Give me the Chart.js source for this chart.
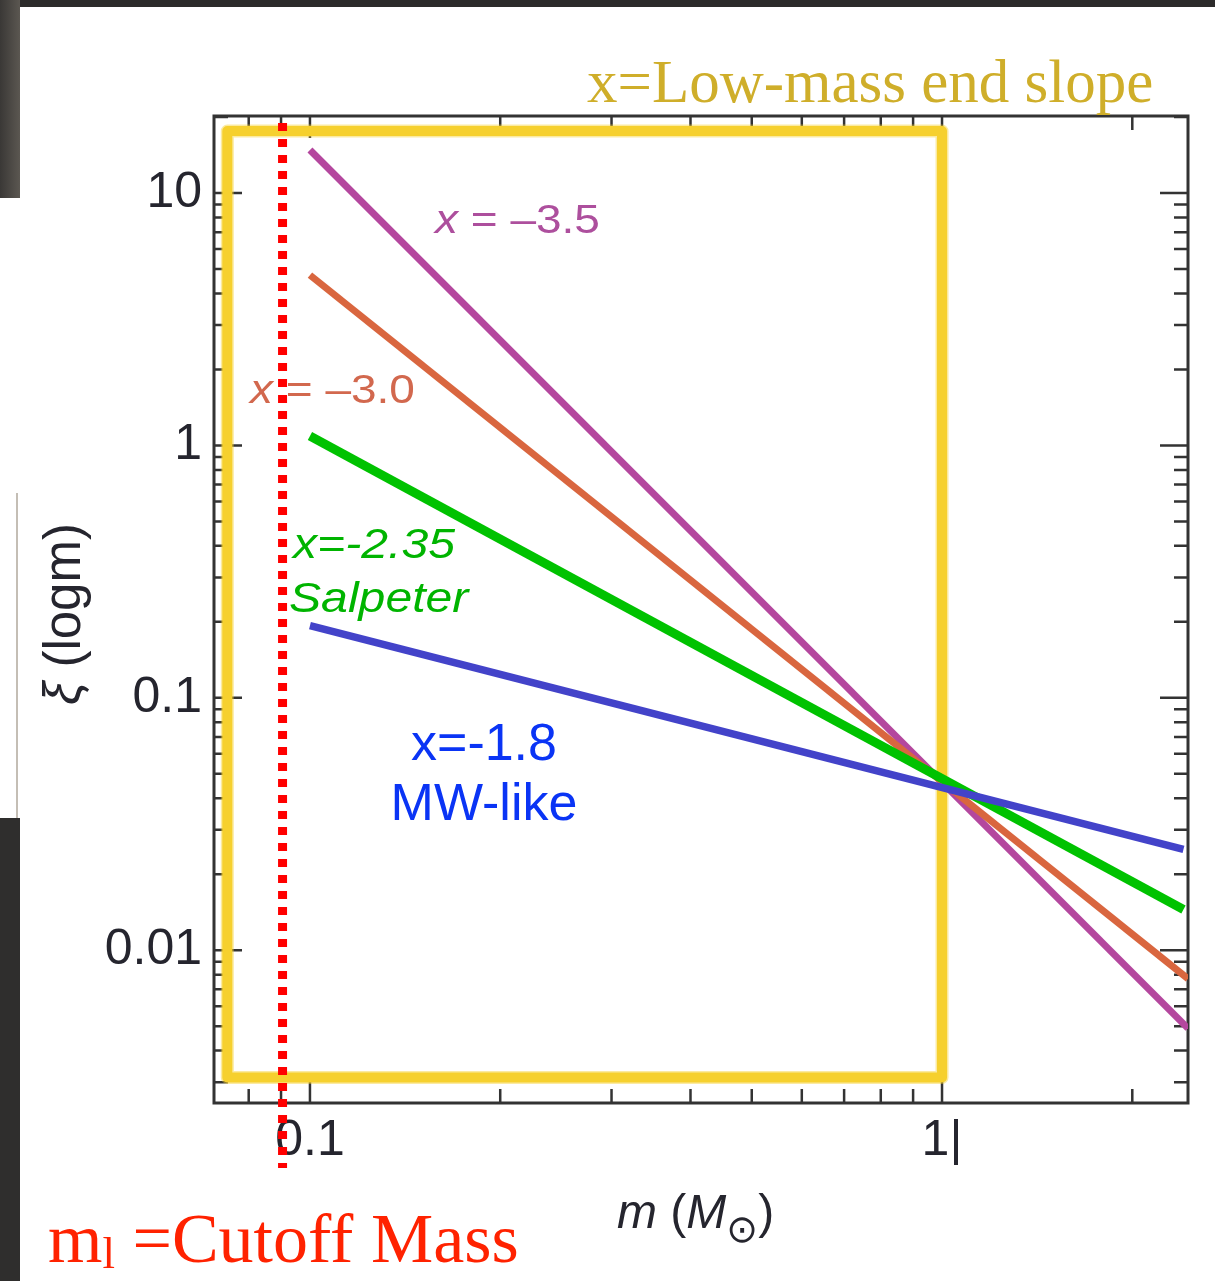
<!DOCTYPE html>
<html>
<head>
<meta charset="utf-8">
<title>IMF low-mass end slopes</title>
<script src="https://cdn.jsdelivr.net/npm/chart.js@4.4.1/dist/chart.umd.min.js"></script>
<style>
  html, body { margin: 0; padding: 0; background: #fff; }
  canvas { display: block; }
</style>
</head>
<body>
<canvas id="imf" width="1215" height="1281"></canvas>
<script>
// stellar mass (M_sun) at the ends of each power-law segment
const massFull = [0.1, 2.45];
const massShort = [0.1, 2.41];

// xi(log m) at those masses, one array per low-mass slope
const xiSlope35 = [14.8, 0.0049];
const xiSlope30 = [4.73, 0.0077];
const xiSalpeter = [1.09, 0.0145];
const xiMilkyWay = [0.193, 0.0251];

const seriesNames = ['x = -1.8', 'x = -2.35', 'x = -3.0', 'x = -3.5'];

const xTickValues = [0.1, 1];
const xTickLabels = ['0.1', '1|'];
const yTickValues = [10, 1, 0.1, 0.01];
const yTickLabels = ['10', '1', '0.1', '0.01'];

// axis ranges
const massMin = 0.0705, massMax = 2.45;
const xiMin = 0.00248, xiMax = 20.2;

// cutoff mass marker and the highlighted low-mass window
const cutoffMass = 0.0905;
const windowMass = [0.074, 1.0];
const windowXi = [0.00313, 17.6];

const SANS = '"Liberation Sans", Arial, sans-serif';
const SERIF = '"Liberation Serif", "Times New Roman", serif';
const INK = '#25252e';

function pts(ms, ys) {
  return ms.map((m, i) => ({ x: m, y: ys[i] }));
}

function logTicks(min, max) {
  const out = [];
  for (let e = Math.floor(Math.log10(min)); e <= Math.ceil(Math.log10(max)); e++) {
    for (let k = 1; k < 10; k++) {
      const v = k * Math.pow(10, e);
      if (v >= min * 0.999 && v <= max * 1.001) out.push({ v, major: k === 1 });
    }
  }
  return out;
}

function tickLabel(values, labels) {
  return v => {
    const i = values.findIndex(t => Math.abs(t - v) / t < 1e-6);
    return i >= 0 ? labels[i] : '';
  };
}

// text made of runs with different fonts, optionally stretched sideways
function drawRuns(ctx, x, y, runs, color, hscale = 1, align = 'left') {
  ctx.save();
  ctx.fillStyle = color;
  ctx.textBaseline = 'alphabetic';
  let total = 0;
  runs.forEach(r => {
    ctx.font = r.font;
    r.w = ctx.measureText(r.text).width;
    total += r.w;
  });
  ctx.translate(x, y);
  ctx.scale(hscale, 1);
  let cx = align === 'center' ? -total / 2 : 0;
  runs.forEach(r => {
    ctx.font = r.font;
    ctx.fillText(r.text, cx, r.dy || 0);
    cx += r.w;
  });
  ctx.restore();
}

const decorations = {
  id: 'decorations',
  beforeDraw(chart) {
    const ctx = chart.ctx;
    ctx.save();
    ctx.fillStyle = '#fff';
    ctx.fillRect(0, 0, chart.width, chart.height);
    // dark slide frame around the figure
    ctx.fillStyle = '#2c2b2a';
    ctx.fillRect(0, 0, chart.width, 7);
    const g = ctx.createLinearGradient(0, 0, 20, 0);
    g.addColorStop(0, '#3a3836');
    g.addColorStop(1, '#5b5751');
    ctx.fillStyle = g;
    ctx.fillRect(0, 0, 20, 198);
    ctx.fillStyle = '#2f2e2d';
    ctx.fillRect(0, 818, 20, chart.height - 818);
    ctx.strokeStyle = '#c4beb5';
    ctx.lineWidth = 2;
    ctx.beginPath();
    ctx.moveTo(17, 493);
    ctx.lineTo(17, 818);
    ctx.stroke();
    ctx.restore();
  },
  beforeDatasetsDraw(chart) {
    const ctx = chart.ctx;
    const { left, right, top, bottom } = chart.chartArea;
    const xs = chart.scales.x, ys = chart.scales.y;
    ctx.save();
    ctx.strokeStyle = '#333';
    ctx.lineWidth = 3;
    ctx.strokeRect(left, top, right - left, bottom - top);

    // inward ticks on all four sides
    ctx.lineWidth = 2.5;
    ctx.beginPath();
    logTicks(xs.min, xs.max).forEach(t => {
      const px = xs.getPixelForValue(t.v);
      const len = t.major ? 22 : 14;
      ctx.moveTo(px, bottom); ctx.lineTo(px, bottom - len);
      ctx.moveTo(px, top); ctx.lineTo(px, top + len);
    });
    logTicks(ys.min, ys.max).forEach(t => {
      const py = ys.getPixelForValue(t.v);
      const len = t.major ? 28 : 14;
      ctx.moveTo(left, py); ctx.lineTo(left + len, py);
      ctx.moveTo(right, py); ctx.lineTo(right - len, py);
    });
    ctx.stroke();

    // highlighted low-mass window
    const x0 = xs.getPixelForValue(windowMass[0]);
    const x1 = xs.getPixelForValue(windowMass[1]);
    const y0 = ys.getPixelForValue(windowXi[1]);
    const y1 = ys.getPixelForValue(windowXi[0]);
    ctx.lineJoin = 'round';
    ctx.strokeStyle = 'rgba(246, 208, 46, 0.45)';
    ctx.lineWidth = 13;
    ctx.strokeRect(x0, y0, x1 - x0, y1 - y0);
    ctx.strokeStyle = '#f6d02e';
    ctx.lineWidth = 10;
    ctx.strokeRect(x0, y0, x1 - x0, y1 - y0);
    ctx.restore();
  },
  afterDraw(chart) {
    const ctx = chart.ctx;
    const xs = chart.scales.x;

    // cutoff mass
    const cx = xs.getPixelForValue(cutoffMass);
    ctx.save();
    ctx.strokeStyle = '#ff0000';
    ctx.lineWidth = 9;
    ctx.setLineDash([8, 8]);
    ctx.beginPath();
    ctx.moveTo(cx, 123);
    ctx.lineTo(cx, 1168);
    ctx.stroke();
    ctx.restore();

    // axis titles
    drawRuns(ctx, 617, 1228, [
      { text: 'm', font: 'italic 48px ' + SANS },
      { text: ' (', font: '48px ' + SANS },
      { text: 'M', font: 'italic 48px ' + SANS },
      { text: '\u2299', font: '38px "DejaVu Sans", sans-serif', dy: 14 },
      { text: ')', font: '48px ' + SANS }
    ], INK);
    ctx.save();
    ctx.translate(80, 705);
    ctx.rotate(-Math.PI / 2);
    drawRuns(ctx, 0, 0, [
      { text: '\u03be', font: 'italic 52px ' + SANS },
      { text: ' (logm)', font: '51px ' + SANS }
    ], INK);
    ctx.restore();

    // series labels
    drawRuns(ctx, 435, 233, [
      { text: 'x', font: 'italic 40px ' + SANS },
      { text: ' = \u20133.5', font: '40px ' + SANS }
    ], '#ad4f9d', 1.15);
    drawRuns(ctx, 250, 403, [
      { text: 'x', font: 'italic 40px ' + SANS },
      { text: ' = \u20133.0', font: '40px ' + SANS }
    ], '#d2684e', 1.15);
    drawRuns(ctx, 293, 558, [{ text: 'x=-2.35', font: 'italic 43px ' + SANS }], '#00b400', 1.12);
    drawRuns(ctx, 289, 612, [{ text: 'Salpeter', font: 'italic 43px ' + SANS }], '#00b400', 1.12);
    drawRuns(ctx, 484, 760, [{ text: 'x=-1.8', font: '52px ' + SANS }], '#0a34f5', 1, 'center');
    drawRuns(ctx, 484, 820, [{ text: 'MW-like', font: '52px ' + SANS }], '#0a34f5', 1, 'center');

    // slide notes
    drawRuns(ctx, 587, 102, [{ text: 'x=Low-mass end slope', font: '61px ' + SERIF }], '#cfae2a');
    drawRuns(ctx, 48, 1262, [
      { text: 'm', font: '70px ' + SERIF },
      { text: 'l', font: '45px ' + SERIF, dy: 6 },
      { text: ' =Cutoff Mass', font: '70px ' + SERIF }
    ], '#ff2200');
  }
};

const lineStyle = { showLine: true, pointRadius: 0, tension: 0, borderCapStyle: 'butt', fill: false };

new Chart(document.getElementById('imf'), {
  type: 'scatter',
  data: {
    datasets: [
      { ...lineStyle, label: seriesNames[0], data: pts(massShort, xiMilkyWay), borderColor: '#4343c9', borderWidth: 7.5 },
      { ...lineStyle, label: seriesNames[1], data: pts(massShort, xiSalpeter), borderColor: '#00c200', borderWidth: 9 },
      { ...lineStyle, label: seriesNames[2], data: pts(massFull, xiSlope30), borderColor: '#d9663f', borderWidth: 7 },
      { ...lineStyle, label: seriesNames[3], data: pts(massFull, xiSlope35), borderColor: '#b4479e', borderWidth: 7 }
    ]
  },
  options: {
    responsive: false,
    animation: false,
    events: [],
    layout: { padding: { top: 116, right: 27, left: 0, bottom: 0 } },
    plugins: { legend: { display: false }, tooltip: { enabled: false } },
    scales: {
      x: {
        type: 'logarithmic',
        min: massMin,
        max: massMax,
        grid: { display: false, drawTicks: false },
        border: { display: false },
        ticks: {
          autoSkip: false,
          maxRotation: 0,
          minRotation: 0,
          padding: 8,
          color: INK,
          font: { family: SANS, size: 50 },
          callback: tickLabel(xTickValues, xTickLabels)
        },
        afterFit(s) { s.height = 178; }
      },
      y: {
        type: 'logarithmic',
        min: xiMin,
        max: xiMax,
        grid: { display: false, drawTicks: false },
        border: { display: false },
        ticks: {
          autoSkip: false,
          padding: 12,
          color: INK,
          font: { family: SANS, size: 50 },
          callback: tickLabel(yTickValues, yTickLabels)
        },
        afterFit(s) { s.width = 214; }
      }
    }
  },
  plugins: [decorations]
});
</script>
</body>
</html>
